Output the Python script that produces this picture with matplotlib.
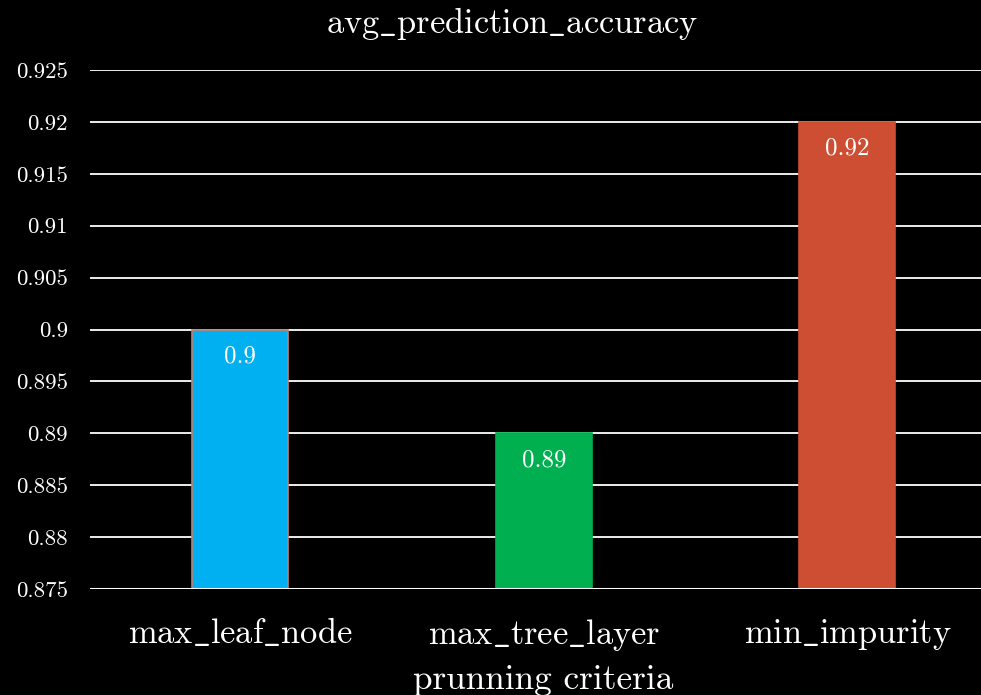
import matplotlib.pyplot as plt

criteria = ["max_leaf_node", "max_tree_layer", "min_impurity"]
accuracy = [0.90, 0.89, 0.92]
bar_colors = ["#00b0f0", "#00b050", "#cd4e32"]
edge_colors = ["#c08070", "#00b050", "#cd4e32"]
yticks = [0.875, 0.88, 0.885, 0.89, 0.895, 0.9, 0.905, 0.91, 0.915, 0.92, 0.925]
ytick_labels = ["0.875", "0.88", "0.885", "0.89", "0.895", "0.9", "0.905",
                "0.91", "0.915", "0.92", "0.925"]


def cm_text(s):
    # cmr10 has no underscore glyph, so go through mathtext for those
    return r"$\mathrm{" + s.replace("_", r"\_") + "}$"


plt.rcParams["font.family"] = ["cmr10", "DejaVu Serif"]
plt.rcParams["mathtext.fontset"] = "cm"
plt.rcParams["axes.formatter.use_mathtext"] = True

fig = plt.figure(figsize=(9.81, 6.95), dpi=100, facecolor="black")
ax = fig.add_axes([90 / 981, 106 / 695, 1 - 90 / 981, 519 / 695])
ax.set_facecolor("black")

x = range(len(criteria))
bars = ax.bar(x, accuracy, width=0.316, color=bar_colors,
              edgecolor=edge_colors, linewidth=1.2, zorder=2)

for b, v in zip(bars, accuracy):
    ax.text(b.get_x() + b.get_width() / 2, v - 0.0026, f"{v:g}",
            ha="center", va="center", color="white", fontsize=18, zorder=3)

ax.set_ylim(0.875, 0.925)
ax.set_xlim(-0.495, 2.44)
ax.set_yticks(yticks)
ax.set_yticklabels(ytick_labels)
ax.set_xticks(list(x))
ax.set_xticklabels([cm_text(c) for c in criteria])
ax.grid(axis="y", color="white", linewidth=1.3, zorder=0)
ax.tick_params(axis="y", colors="white", labelsize=16.5, length=0, pad=16)
ax.tick_params(axis="x", colors="white", labelsize=24.8, length=0, pad=20)
for s in ax.spines.values():
    s.set_visible(False)
ax.axhline(0.875, color="white", linewidth=2.2, zorder=4)

fig.text(512 / 981, 1 - 23 / 695, cm_text("avg_prediction_accuracy"),
         ha="center", va="center", color="white", fontsize=24.8)
ax.set_xlabel("prunning criteria", color="white", fontsize=25.4)
ax.xaxis.set_label_coords((543 - 90) / 891, -(680 - 589) / 519,
                          transform=ax.transAxes)
ax.xaxis.label.set_va("center")

fig.savefig("out.png", dpi=100, facecolor="black")
